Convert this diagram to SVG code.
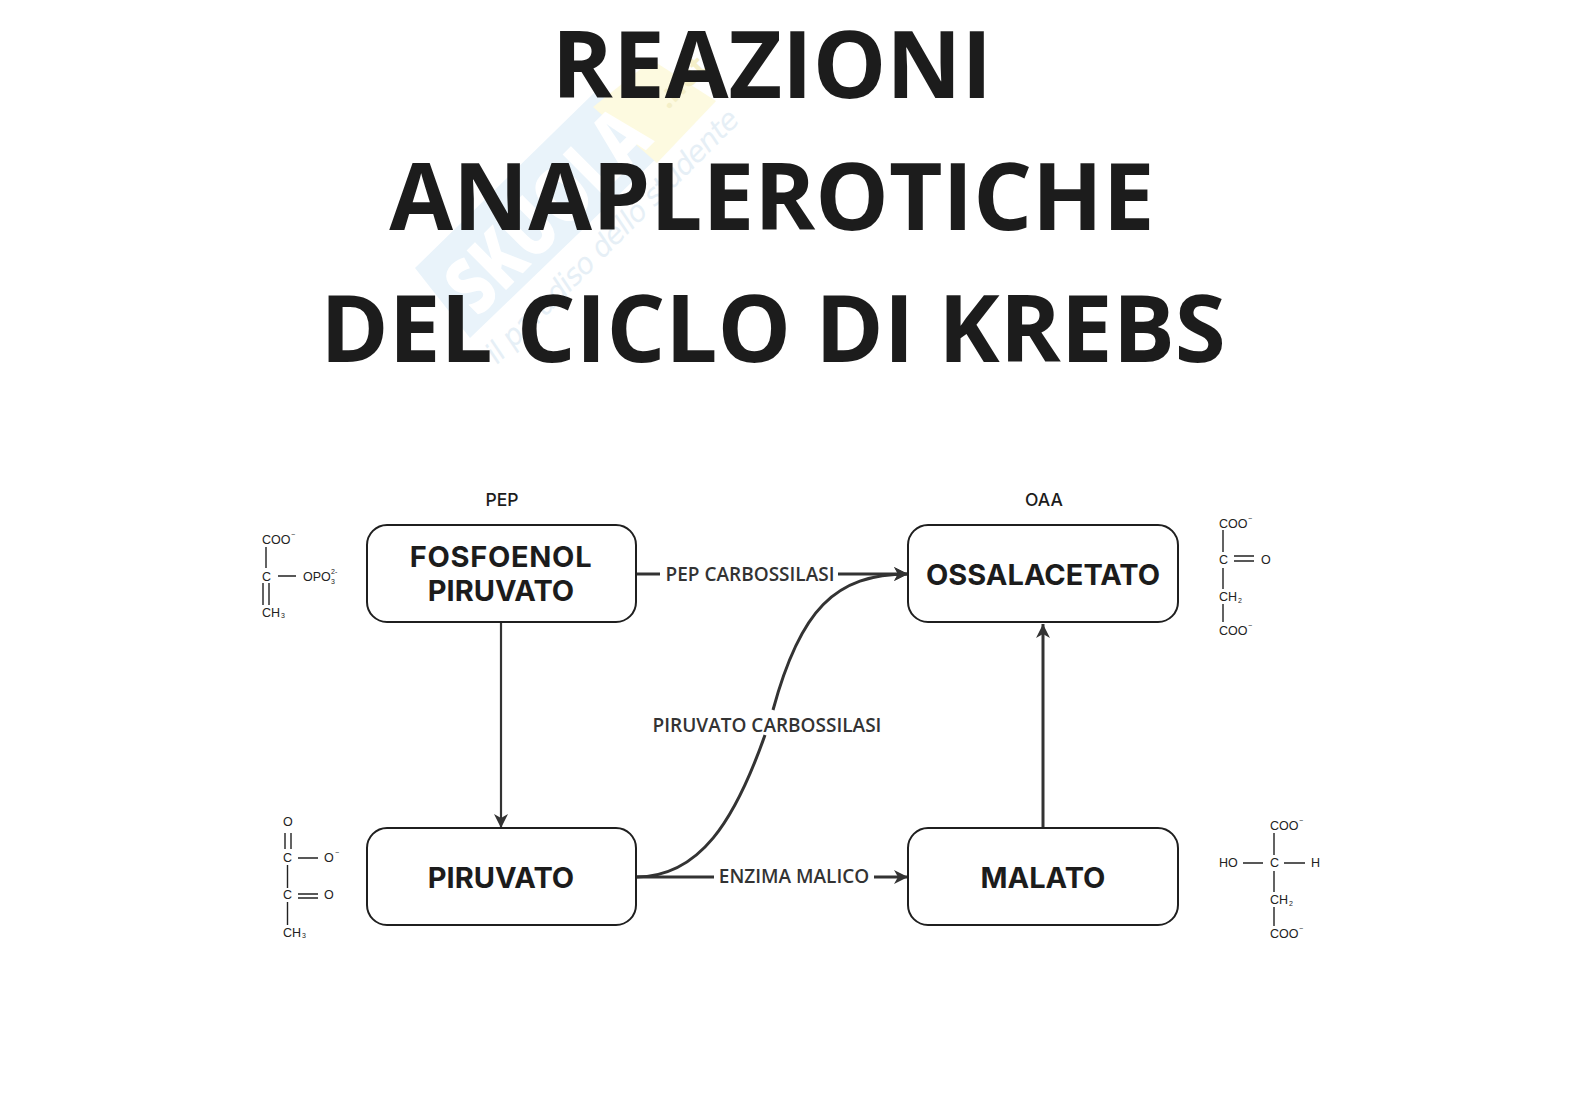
<svg xmlns="http://www.w3.org/2000/svg" width="1580" height="1117" viewBox="0 0 1580 1117">
<style>
.title{font-family:"Open Sans",sans-serif;font-weight:700;font-size:92.5px;fill:#1c1c1c;text-anchor:middle}
.box{fill:#fff;stroke:#1f1f1f;stroke-width:2}
.nt{font-family:Inter,"Liberation Sans",sans-serif;font-weight:700;font-size:29px;fill:#1c1c1c;text-anchor:middle}
.top{font-family:Inter,"Liberation Sans",sans-serif;font-weight:500;font-size:17.500px;fill:#1c1c1c;text-anchor:middle}
.lab{font-family:"Open Sans",sans-serif;font-weight:600;font-size:19px;fill:#333;text-anchor:middle}
.edge{fill:none;stroke:#333;stroke-width:3}
.chem text{font-family:"Liberation Sans",sans-serif;font-size:12.500px;fill:#222}
.chem text.s{font-size:7px}
.chem path{fill:none;stroke:#222;stroke-width:1.400}
</style>
<defs>
<marker id="arr" markerUnits="userSpaceOnUse" markerWidth="18" markerHeight="16" refX="15" refY="8" orient="auto">
<path d="M1 1L15 8L1 15L5 8Z" fill="#333"/>
</marker>
</defs>
<rect width="1580" height="1117" fill="#fff"/>
<g id="watermark">
<path d="M415 268L597 90L660 155L470 338Z" fill="#e9f3fa"/>
<path d="M593 107L652 60L716 101L657 163Z" fill="#fdfae0"/>
<text transform="translate(478 318) rotate(-45)" font-family="Open Sans,sans-serif" font-weight="800" font-size="78" fill="#fff" textLength="250" lengthAdjust="spacingAndGlyphs">SKUOLA</text>
<text transform="translate(668 110) rotate(-45)" font-family="Open Sans,sans-serif" font-weight="700" font-size="30" fill="#f4efc8">.net</text>
<text transform="translate(497 365) rotate(-45)" font-family="DejaVu Sans,sans-serif" font-style="italic" font-size="29" fill="#e6eff6" textLength="345">il paradiso dello studente</text>
</g>
<g id="title">
<text class="title" x="772" y="98">REAZIONI</text>
<text class="title" x="772" y="230">ANAPLEROTICHE</text>
<text class="title" x="773" y="362">DEL CICLO DI KREBS</text>
</g>
<g id="connectors">
<path class="edge" d="M501 622V828" style="stroke-width:2.200" marker-end="url(#arr)"/>
<path class="edge" d="M636 574H660"/>
<path class="edge" d="M838 574H908" marker-end="url(#arr)"/>
<path class="edge" d="M636 877C700 877 735 820 765 735"/>
<path class="edge" d="M773 710C800 610 835 574 908 574" marker-end="url(#arr)"/>
<path class="edge" d="M636 877H714"/>
<path class="edge" d="M874 877H908" marker-end="url(#arr)"/>
<path class="edge" d="M1043 828V624" marker-end="url(#arr)"/>
</g>
<g id="edge-labels">
<text class="lab" x="750" y="581">PEP CARBOSSILASI</text>
<text class="lab" x="767" y="732">PIRUVATO CARBOSSILASI</text>
<text class="lab" x="794" y="883">ENZIMA MALICO</text>
</g>
<g id="node-pep">
<text class="top" x="502" y="506">PEP</text>
<rect class="box" x="367" y="525" width="269" height="97" rx="20"/>
<text class="nt" x="501" y="567" style="letter-spacing:.7px">FOSFOENOL</text>
<text class="nt" x="501" y="601">PIRUVATO</text>
</g>
<g id="node-oaa">
<text class="top" x="1044" y="506">OAA</text>
<rect class="box" x="908" y="525" width="270" height="97" rx="20"/>
<text class="nt" x="1043" y="585">OSSALACETATO</text>
</g>
<g id="node-piruvato">
<rect class="box" x="367" y="828" width="269" height="97" rx="20"/>
<text class="nt" x="501" y="888">PIRUVATO</text>
</g>
<g id="node-malato">
<rect class="box" x="908" y="828" width="270" height="97" rx="20"/>
<text class="nt" x="1043" y="888">MALATO</text>
</g>
<g id="chem-pep" class="chem">
<text x="262" y="544">COO</text><text class="s" x="291" y="537">−</text>
<path d="M266 547V568M263 583V605M269 583V605M278 576H296"/>
<text x="262" y="581">C</text>
<text x="303" y="581">OPO</text><text class="s" x="331" y="574">2-</text><text class="s" x="331" y="584">3</text>
<text x="262" y="617">CH</text><text class="s" x="281" y="618">3</text>
</g>
<g id="chem-piruvato" class="chem">
<text x="283" y="826">O</text>
<path d="M285 833V849M291 833V849M287.500 865V888M287.500 902V925M298 858H318M298 894H318M298 898H318"/>
<text x="283" y="862">C</text>
<text x="324" y="862">O</text><text class="s" x="335" y="855">−</text>
<text x="283" y="899">C</text>
<text x="324" y="899">O</text>
<text x="283" y="937">CH</text><text class="s" x="302" y="938">3</text>
</g>
<g id="chem-oaa" class="chem">
<text x="1219" y="528">COO</text><text class="s" x="1248" y="521">−</text>
<path d="M1223 530V552M1223 568V589M1223 604V622M1234 556H1254M1234 561H1254"/>
<text x="1219" y="564">C</text>
<text x="1261" y="564">O</text>
<text x="1219" y="601">CH</text><text class="s" x="1238" y="603">2</text>
<text x="1219" y="635">COO</text><text class="s" x="1248" y="628">−</text>
</g>
<g id="chem-malato" class="chem">
<text x="1270" y="830">COO</text><text class="s" x="1299" y="823">−</text>
<path d="M1274 833V855M1274 871V892M1274 907V926M1243 863H1263M1284 863H1305"/>
<text x="1219" y="867">HO</text>
<text x="1270" y="867">C</text>
<text x="1311" y="867">H</text>
<text x="1270" y="904">CH</text><text class="s" x="1289" y="906">2</text>
<text x="1270" y="938">COO</text><text class="s" x="1299" y="931">−</text>
</g>
</svg>
